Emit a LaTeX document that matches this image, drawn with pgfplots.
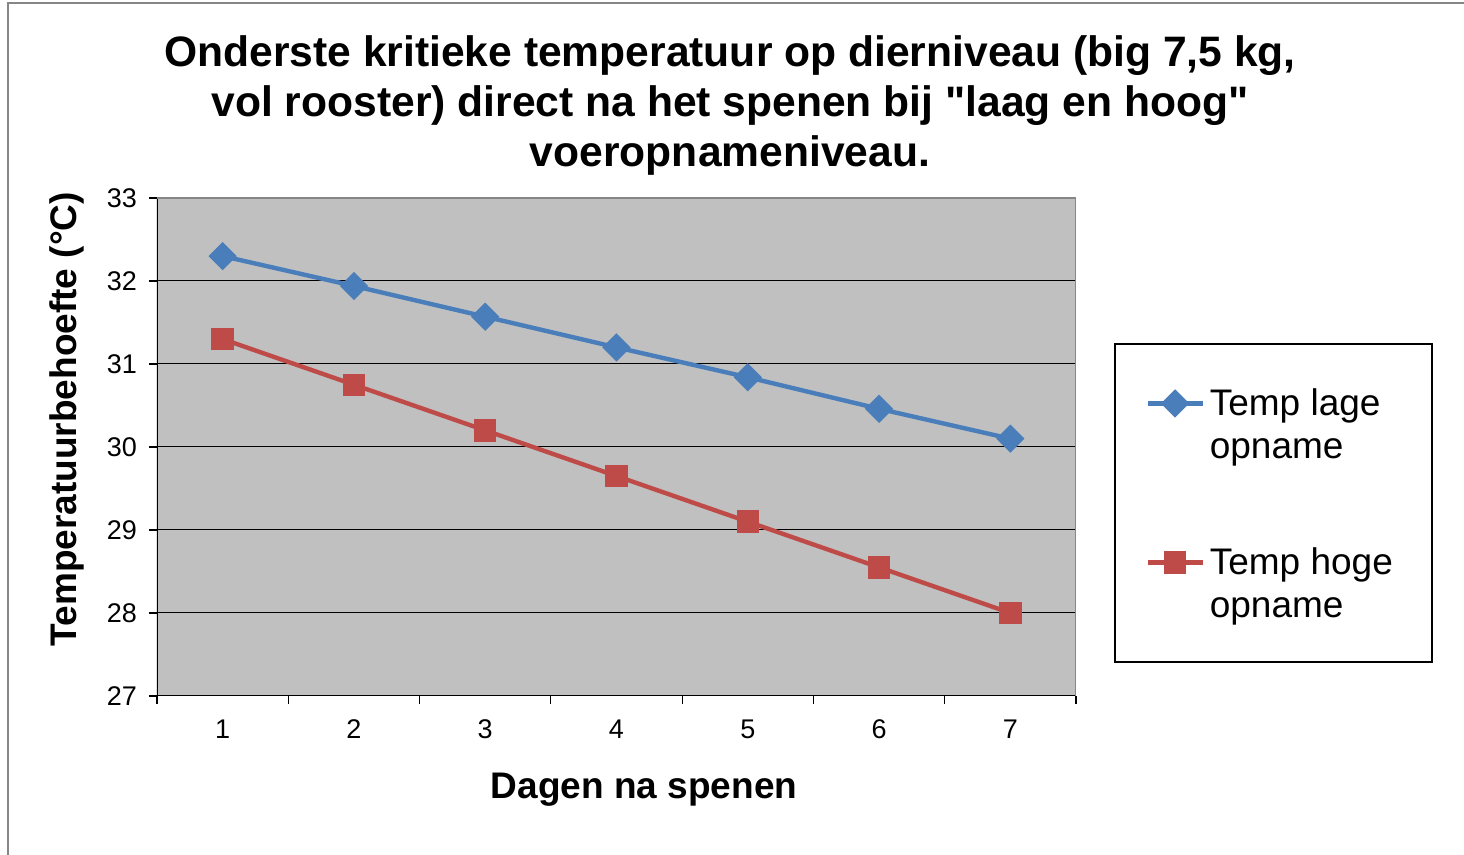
\documentclass[border=0pt]{standalone}
\usepackage{fontspec}
\setmainfont{Liberation Sans}[Ligatures=TeXOff]
\usepackage{pgfplots}
\pgfplotsset{compat=1.18}
\definecolor{blueS}{HTML}{4A7EBB}
\definecolor{redS}{HTML}{BE4B48}
\definecolor{plotbg}{HTML}{C0C0C0}
\definecolor{frameg}{HTML}{868686}
\begin{document}
\begin{tikzpicture}
\useasboundingbox (0pt,0pt) rectangle (732pt,427.5pt);
\draw[line width=1pt, color=frameg] (4pt,-2pt) -- (4pt,426pt) -- (734pt,426pt);
\node[align=center, font=\fontsize{21.3}{25}\selectfont\bfseries] at (365pt,374.5pt)
  {Onderste kritieke temperatuur op dierniveau (big 7,5 kg,\\ vol rooster) direct na het spenen bij "laag en hoog"\\ voeropnameniveau.};
\begin{axis}[at={(78.5pt,79.5pt)}, anchor=south west, width=459.5pt, height=249pt, scale only axis,
  xmin=0.5, xmax=7.5, ymin=27, ymax=33,
  xtick={0.5,1.5,...,7.5}, xticklabels={},
  extra x ticks={1,...,7}, extra x tick style={major tick length=0pt},
  ytick={27,...,33},
  xtick pos=bottom, ytick pos=left, tick align=outside, major tick length=4pt,
  tick style={black, line width=0.6pt},
  ymajorgrids, grid style={black, line width=0.5pt},
  axis background/.style={fill=plotbg},
  axis line style={draw=none},
  ticklabel style={font=\fontsize{13.5}{16}\selectfont},
  yticklabel style={xshift=-2.5pt},
  xticklabel style={yshift=-8.5pt},
  /pgf/number format/assume math mode=true,
  xlabel={Dagen na spenen}, ylabel={Temperatuurbehoefte (°C)},
  label style={font=\fontsize{18.5}{22}\selectfont\bfseries},
  xlabel style={at={(axis description cs:0.53,-0.1888)}, anchor=center},
  ylabel style={at={(axis description cs:-0.098,0.556)}, anchor=center},
  legend style={at={(axis description cs:1.0751,0.6245)}, anchor=north west, draw=none, fill=none,
    inner sep=0pt, row sep=63pt, column sep=2.5pt,
    font=\fontsize{18.5}{21.5}\selectfont, nodes={inner sep=0pt}, cells={anchor=base west}},
  legend image code/.code={\draw[mark repeat=2,mark phase=2,#1] plot coordinates {(0pt,6pt) (13.75pt,6pt) (27.5pt,6pt)};},
]
\draw[black, line width=0.8pt] (rel axis cs:0,1) -- (rel axis cs:0,0) -- (rel axis cs:1,0);
\draw[frameg, line width=0.8pt] (rel axis cs:0,1) -- (rel axis cs:1,1) -- (rel axis cs:1,0);
\addplot[blueS, line width=2.2pt, mark=square*, mark size=3.9pt, mark options={rotate=45, solid}]
  coordinates {(1,32.30) (2,31.94) (3,31.57) (4,31.20) (5,30.84) (6,30.46) (7,30.10)};
\addlegendentry{\begin{tabular}[t]{@{}l@{}}Temp lage\\opname\end{tabular}}
\addplot[redS, line width=2.2pt, mark=square*, mark size=4.5pt, mark options={solid}]
  coordinates {(1,31.30) (2,30.75) (3,30.20) (4,29.65) (5,29.10) (6,28.55) (7,28.00)};
\addlegendentry{\begin{tabular}[t]{@{}l@{}}Temp hoge\\opname\end{tabular}}
\end{axis}
\draw[black, line width=0.6pt] (557.5pt,96.5pt) rectangle (716pt,255.5pt);
\end{tikzpicture}
\end{document}
